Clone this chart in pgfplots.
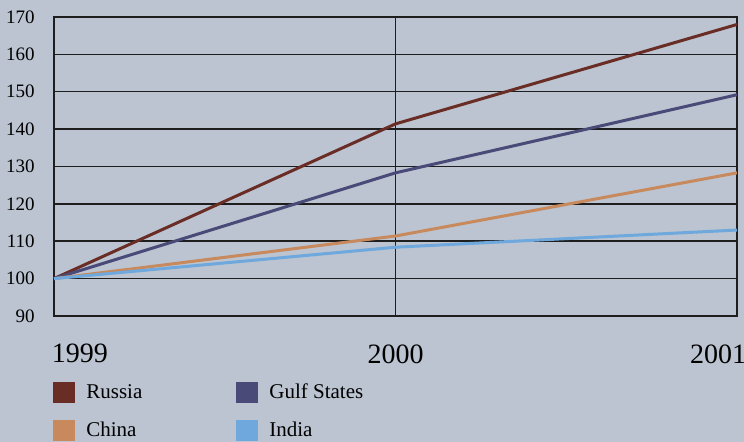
\documentclass[border=0pt]{standalone}
\usepackage{pgfplots}
\pgfplotsset{compat=1.18}
\usepackage{fontspec}
\setmainfont{Liberation Serif}
\definecolor{bg}{RGB}{187,196,208}
\definecolor{russia}{RGB}{105,45,38}
\definecolor{gulf}{RGB}{74,74,120}
\definecolor{china}{RGB}{200,138,92}
\definecolor{india}{RGB}{110,168,220}
\definecolor{gridc}{RGB}{30,30,30}
\begin{document}
\begin{tikzpicture}
\fill[bg] (-27pt,-63pt) rectangle (345pt,158pt);
\begin{axis}[at={(0,0)}, anchor=south west, scale only axis,
  width=341.5pt, height=149.5pt,
  xmin=1999, xmax=2001, ymin=90, ymax=170,
  xtick={1999,2000,2001},
  xticklabels={{\makebox[0pt][l]{\kern-1pt 1999}},{2000},{\makebox[0pt][r]{2001\kern-4.5pt}}},
  ytick={90,100,...,170},
  grid=major,
  major grid style={line width=0.75pt, gridc},
  axis line style={line width=0.75pt, gridc},
  major tick length=0pt,
  /pgf/number format/assume math mode=true,
  /pgf/number format/1000 sep={},
  yticklabel style={font=\fontsize{9.5}{11}\selectfont, anchor=east, inner sep=0pt, xshift=-9.5pt},
  xticklabel style={font=\fontsize{14}{16}\selectfont, anchor=north, inner sep=0pt, yshift=-14pt},
  legend columns=2,
  legend style={at={(0,0)}, anchor=north west, draw=none, fill=none,
    xshift=-0.5pt, yshift=-33pt, inner sep=0pt, row sep=8.5pt,
    font=\fontsize{10.5}{13}\selectfont,
    nodes={inner sep=0pt, anchor=west}},
  legend image code/.code={\fill (0pt,-4.5pt) rectangle (9.5pt,4.5pt);},
  legend cell align=left,
]
\addplot[russia, line width=1.5pt] coordinates {(1999,100) (2000,141.4) (2001,168)};
\addlegendentry{\kern5.5pt\makebox[75pt][l]{Russia}}
\addplot[gulf, line width=1.5pt] coordinates {(1999,100) (2000,128.3) (2001,149.2)};
\addlegendentry{\kern5.5pt\makebox[75pt][l]{Gulf States}}
\addplot[china, line width=1.5pt] coordinates {(1999,100) (2000,111.4) (2001,128.3)};
\addlegendentry{\kern5.5pt\makebox[75pt][l]{China}}
\addplot[india, line width=1.5pt] coordinates {(1999,100) (2000,108.4) (2001,113)};
\addlegendentry{\kern5.5pt\makebox[75pt][l]{India}}
\end{axis}
\pgfresetboundingbox
\useasboundingbox (-27pt,-63pt) rectangle (345pt,158pt);
\end{tikzpicture}
\end{document}
